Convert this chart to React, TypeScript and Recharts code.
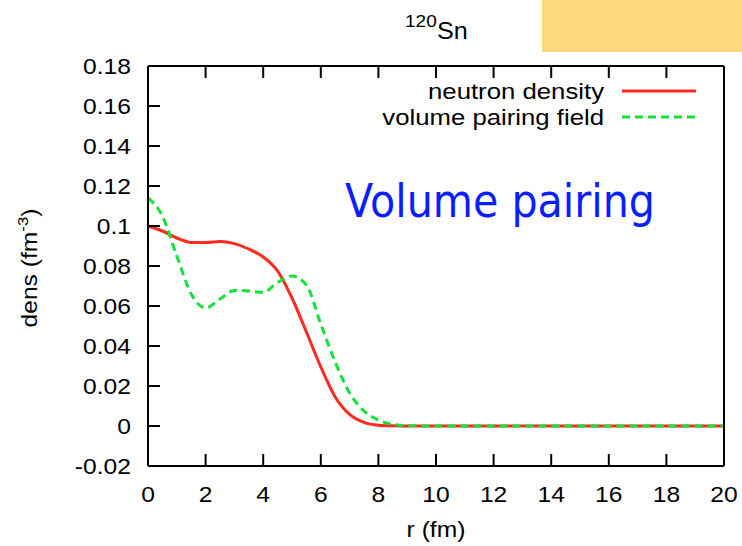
import React from "react";
import { LineChart, Line, XAxis, YAxis } from "recharts";

// radial grid (fm)
const rValues = [0, 0.5, 1, 1.5, 2, 2.5, 3, 3.5, 4, 4.5, 5, 5.5, 6, 6.5, 7, 7.5, 8, 8.5, 9, 10, 12, 14, 16, 18, 20];
// neutron density (fm^-3)
const neutronDensity = [0.1, 0.0975, 0.094, 0.0918, 0.0918, 0.0923, 0.0912, 0.0885, 0.0845, 0.0775, 0.064, 0.047, 0.0295, 0.0145, 0.0058, 0.0018, 0.0004, 0.0001, 0, 0, 0, 0, 0, 0, 0];
// volume pairing field
const pairingField = [0.114, 0.105, 0.085, 0.066, 0.059, 0.0635, 0.0678, 0.0675, 0.0668, 0.0718, 0.075, 0.0705, 0.051, 0.032, 0.0165, 0.0075, 0.003, 0.0008, 0.0002, 0, 0, 0, 0, 0, 0];

const xTicks = [0, 2, 4, 6, 8, 10, 12, 14, 16, 18, 20];
const yTicks = [-0.02, 0, 0.02, 0.04, 0.06, 0.08, 0.1, 0.12, 0.14, 0.16, 0.18];

const data = rValues.map((r, i) => ({ r, density: neutronDensity[i], pairing: pairingField[i] }));

const RED = "#ff2a1e";
const GREEN = "#14e23a";
const FONT = "'Liberation Sans', Arial, sans-serif";
const SX = 1.12;
const TICK = 12;

const fmt = (v: number) => String(Number(v.toFixed(2)));

function SText({ x, y, anchor = "start", size = 22, children, sx = SX, fill = "#000" }: any) {
  return (
    <text
      transform={`translate(${x},${y}) scale(${sx},1)`}
      textAnchor={anchor}
      fontSize={size}
      fontFamily={FONT}
      fill={fill}
    >
      {children}
    </text>
  );
}

// gnuplot-style inward ticks on all four sides
const BottomTick = (p: any) => (
  <g>
    <line x1={p.x} y1={p.y} x2={p.x} y2={p.y - TICK} stroke="#000" strokeWidth={2} />
    <SText x={p.x} y={p.y + 36} anchor="middle">{fmt(p.payload.value)}</SText>
  </g>
);

const TopTick = (p: any) => (
  <line x1={p.x} y1={p.y} x2={p.x} y2={p.y + TICK} stroke="#000" strokeWidth={2} />
);

const LeftTick = (p: any) => (
  <g>
    <line x1={p.x} y1={p.y} x2={p.x + TICK} y2={p.y} stroke="#000" strokeWidth={2} />
    <SText x={p.x - 17} y={p.y + 8} anchor="end">{fmt(p.payload.value)}</SText>
  </g>
);

const RightTick = (p: any) => (
  <line x1={p.x} y1={p.y} x2={p.x - TICK} y2={p.y} stroke="#000" strokeWidth={2} />
);

export default function App() {
  return (
    <div style={{ position: "absolute", left: 0, top: 0, width: 742, height: 546, background: "#fff" }}>
      <div style={{ position: "absolute", left: 0, top: 0 }}>
        <LineChart width={742} height={546} data={data} margin={{ top: 65, right: 0, bottom: 0, left: 0 }}>
          <XAxis
            dataKey="r"
            type="number"
            domain={[0, 20]}
            ticks={xTicks}
            interval={0}
            height={80}
            tickSize={0}
            tickMargin={0}
            tickLine={false}
            axisLine={{ stroke: "#000", strokeWidth: 2 }}
            tick={BottomTick}
          />
          <XAxis
            xAxisId="top"
            dataKey="r"
            type="number"
            orientation="top"
            domain={[0, 20]}
            ticks={xTicks}
            interval={0}
            height={1}
            tickSize={0}
            tickMargin={0}
            tickLine={false}
            axisLine={{ stroke: "#000", strokeWidth: 2 }}
            tick={TopTick}
          />
          <YAxis
            yAxisId="left"
            type="number"
            domain={[-0.02, 0.18]}
            ticks={yTicks}
            interval={0}
            width={148}
            tickSize={0}
            tickMargin={0}
            tickLine={false}
            axisLine={{ stroke: "#000", strokeWidth: 2 }}
            tick={LeftTick}
          />
          <YAxis
            yAxisId="right"
            orientation="right"
            type="number"
            domain={[-0.02, 0.18]}
            ticks={yTicks}
            interval={0}
            width={18}
            tickSize={0}
            tickMargin={0}
            tickLine={false}
            axisLine={{ stroke: "#000", strokeWidth: 2 }}
            tick={RightTick}
          />
          <Line
            yAxisId="left"
            type="monotone"
            dataKey="density"
            stroke={RED}
            strokeWidth={3}
            dot={false}
            isAnimationActive={false}
          />
          <Line
            yAxisId="left"
            type="monotone"
            dataKey="pairing"
            stroke={GREEN}
            strokeWidth={3}
            strokeDasharray="8 5"
            dot={false}
            isAnimationActive={false}
          />
        </LineChart>
      </div>
      <svg width={742} height={546} style={{ position: "absolute", left: 0, top: 0, pointerEvents: "none" }}>
        <rect x={542} y={0} width={200} height={52} fill="#fdd97c" />
        {/* title */}
        <SText x={405} y={27} size={17}>120</SText>
        <SText x={437} y={39} size={24} sx={1.05}>Sn</SText>
        {/* legend */}
        <SText x={604} y={99} anchor="end" sx={1.17}>neutron density</SText>
        <line x1={622} y1={91} x2={696} y2={91} stroke={RED} strokeWidth={3} />
        <SText x={604} y={125} anchor="end" sx={1.17}>volume pairing field</SText>
        <line x1={622} y1={117} x2={696} y2={117} stroke={GREEN} strokeWidth={3} strokeDasharray="8 5" />
        {/* annotation */}
        <text
          x={345}
          y={217}
          fontSize={46}
          fontFamily="'DejaVu Sans', sans-serif"
          fill="#0a1eff"
          textLength={310}
          lengthAdjust="spacingAndGlyphs"
        >
          Volume pairing
        </text>
        {/* axis titles */}
        <SText x={436} y={537} anchor="middle" size={22}>r (fm)</SText>
        <text
          transform={`translate(37,268) rotate(-90) scale(${SX},1)`}
          textAnchor="middle"
          fontSize={22}
          fontFamily={FONT}
          fill="#000"
        >
          dens (fm
          <tspan fontSize={15} dy={-9}>-3</tspan>
          <tspan dy={9}>)</tspan>
        </text>
      </svg>
    </div>
  );
}
